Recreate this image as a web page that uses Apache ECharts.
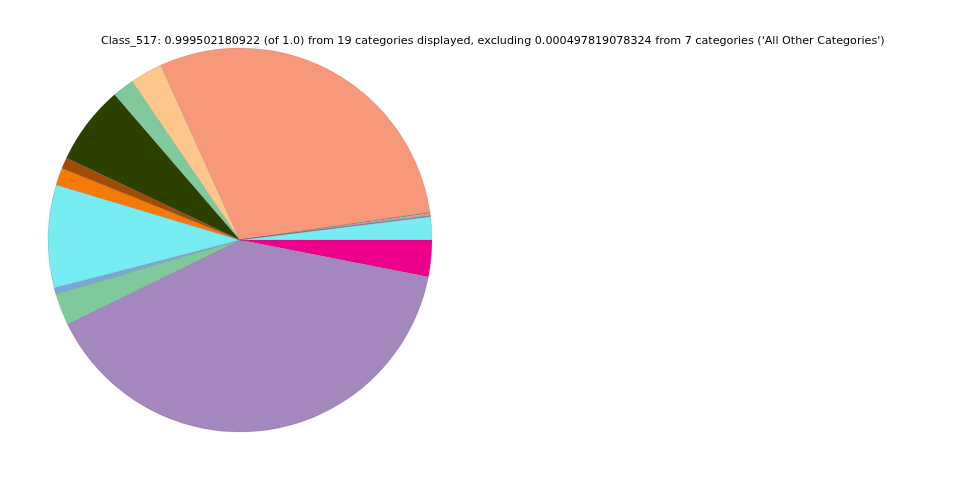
<!DOCTYPE html>
<html><head><meta charset="utf-8">
<script src="https://cdn.jsdelivr.net/npm/echarts@6/dist/echarts.min.js"></script>
<style>html,body{margin:0;padding:0;background:#fff}#c{width:960px;height:480px}</style>
</head><body><div id="c"></div>
<script>
const categories = ['Cat_A','Cat_B','Cat_C','Cat_D','Cat_E','Cat_F','Cat_G','Cat_H','Cat_I','Cat_J','Cat_K','Cat_L','Cat_M','Cat_N','Cat_O','Cat_P','Cat_Q','Cat_R','Cat_S'];
const values = [0.0308,0.3965,0.0267,0.0053,0.0865,0.0144,0.0094,0.0664,0.0183,0.0272,0.2943,0.0008,0.0014,0.0008,0.0002,0.0002,0.0002,0.0002,0.0192];
const colors = ['#ee008c','#a387be','#80c99c','#7ba7d8','#78ecf3','#f57a07','#a34a07','#2c4000','#80c99c','#fdc68a','#f8987a','#4db34a','#f29bbf','#b0a0e0','#cccccc','#dddddd','#bbbbbb','#aaaaaa','#78ecf3'];
const titleText = "Class_517: 0.999502180922 (of 1.0) from 19 categories displayed, excluding 0.000497819078324 from 7 categories ('All Other Categories')";
const chart = echarts.init(document.getElementById('c'));
chart.setOption({
  animation:false,
  title:{text:titleText,left:96,top:31,textStyle:{fontFamily:'DejaVu Sans',fontSize:11.15,fontWeight:'normal',color:'#000'}},
  series:[{type:'pie',center:[240,240],radius:[0,192],startAngle:0,clockwise:true,minAngle:0,
    avoidLabelOverlap:false,label:{show:false},labelLine:{show:false},
    itemStyle:{borderColor:'rgba(90,90,90,0.35)',borderWidth:0.5},
    emphasis:{disabled:true},
    data:categories.map((n,i)=>({name:n,value:values[i],itemStyle:{color:colors[i]}}))
  }]
});
</script></body></html>
